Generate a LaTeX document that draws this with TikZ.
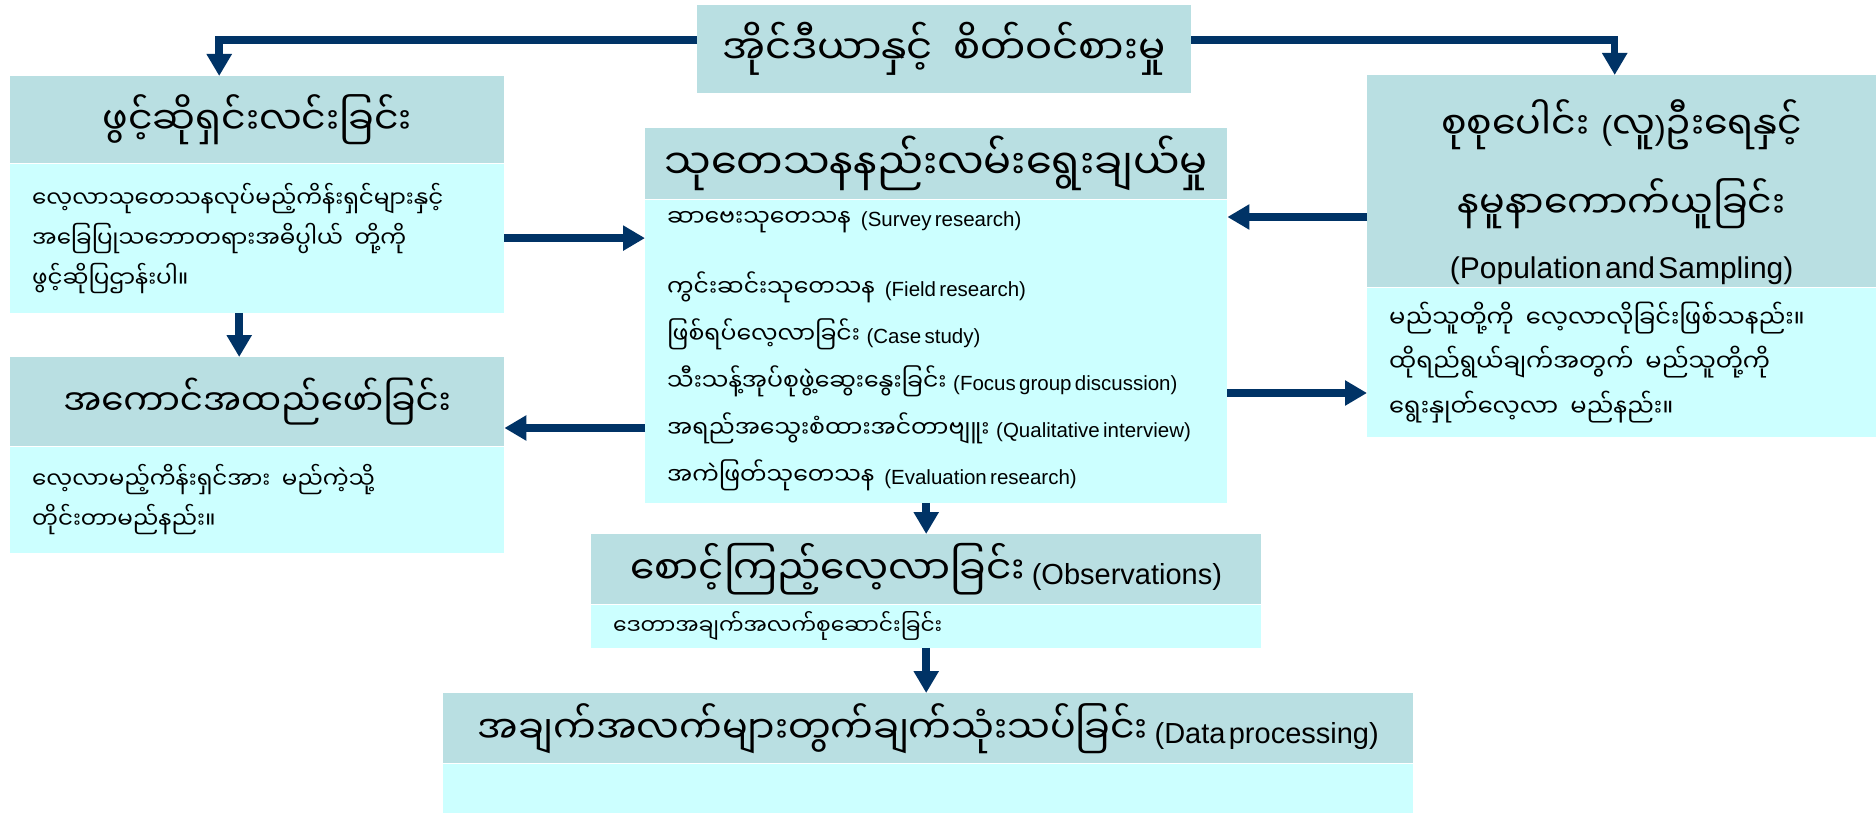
\documentclass[tikz,border=0pt]{standalone}
\usepackage{fontspec}
\setmainfont{Liberation Sans}
\newfontfamily\mmfont[Script=Myanmar,Scale=1.15]{Noto Sans Myanmar UI}
\usetikzlibrary{positioning,arrows.meta}
\definecolor{headfill}{HTML}{B9DFE2}
\definecolor{bodyfill}{HTML}{CCFFFF}
\definecolor{linkblue}{HTML}{003366}
\newcommand*{\my}[1]{{\mmfont #1}}
\newcommand*{\gap}{\hspace{0.5em}}
\newcommand*{\en}[1]{{\fontsize{29}{34}\selectfont #1}}
% name, left x, top y, width, head height, body height, head text, body text
\newcommand{\stepframe}[8]{%
\node[headbox, anchor=north west, minimum width=#4pt, text width=#4pt-24pt, minimum height=#5pt] (#1-head) at (#2,#3) {#7};
\node[bodybox, below=0pt of #1-head, minimum width=#4pt, text width=#4pt-44pt, minimum height=#6pt] (#1-body) {#8};
}

\begin{document}
\begin{tikzpicture}[x=1pt,y=-1pt]
		\tikzset{
			headbox/.style = {fill = headfill, inner xsep = 12pt, inner ysep = 0pt, align = center},
			bodybox/.style = {fill = bodyfill, inner xsep = 22pt, inner ysep = 0pt, align = left},
			link/.style = {draw = linkblue, line width = 7.5pt, -{Triangle[length=22pt,width=24pt]}},
		};
		\fill[white] (0,0) rectangle (1876,813);
		\useasboundingbox (0,0) rectangle (1876,813);

		\node[headbox, anchor=north west, minimum width=494pt, text width=470pt, minimum height=88pt] (idea) at (697,5)
			{\fontsize{35}{42}\selectfont\my{အိုင်ဒီယာနှင့်\gap စိတ်ဝင်စားမှု}};

		\stepframe{define}{10}{76}{494}{87}{149}
			{\fontsize{33}{40}\selectfont\my{ဖွင့်ဆိုရှင်းလင်းခြင်း}}
			{\fontsize{20}{40}\selectfont\my{လေ့လာသုတေသနလုပ်မည့်ကိန်းရှင်များနှင့်}\\\my{အခြေပြုသဘောတရားအဓိပ္ပါယ်\gap တို့ကို}\\\my{ဖွင့်ဆိုပြဌာန်းပါ။}\par}
		\stepframe{frame}{10}{357}{494}{89}{106}
			{\fontsize{31}{38}\selectfont\my{အကောင်အထည်ဖော်ခြင်း}}
			{\fontsize{20}{40}\selectfont\my{လေ့လာမည့်ကိန်းရှင်အား\gap မည်ကဲ့သို့}\\\my{တိုင်းတာမည်နည်း။}\par}
		\stepframe{method}{645}{128}{582}{71}{303}
			{\fontsize{36}{42}\selectfont\my{သုတေသနနည်းလမ်းရွေးချယ်မှု}}
			{\fontsize{20.5}{47}\selectfont\my{ဆာဗေးသုတေသန}~~~(Survey research)\\[23pt]
			\my{ကွင်းဆင်းသုတေသန}~~~(Field research)\\
			\my{ဖြစ်ရပ်လေ့လာခြင်း}~~(Case study)\\
			\my{သီးသန့်အုပ်စုဖွဲ့ဆွေးနွေးခြင်း}~~(Focus group discussion)\\
			\my{အရည်အသွေးစံထားအင်တာဗျူး}~~(Qualitative interview)\\
			\my{အကဲဖြတ်သုတေသန}~~~(Evaluation research)\par}
		\stepframe{sample}{1367}{75}{509}{212}{149}
			{\fontsize{33}{79}\selectfont\rule{0pt}{62pt}\my{စုစုပေါင်း}\hspace{12pt}(\my{လူ})\my{ဦးရေနှင့်}\\\my{နမူနာကောက်ယူခြင်း}\\\fontsize{30}{60}\selectfont (Population and Sampling)\par}
			{\fontsize{21}{44.5}\selectfont\my{မည်သူတို့ကို\gap လေ့လာလိုခြင်းဖြစ်သနည်း။}\\\my{ထိုရည်ရွယ်ချက်အတွက်\gap မည်သူတို့ကို}\\\my{ရွေးနှုတ်လေ့လာ\gap မည်နည်း။}\par}
		\stepframe{obs}{591}{534}{670}{70}{43}
			{\fontsize{34}{40}\selectfont\my{စောင့်ကြည့်လေ့လာခြင်း}~~\en{(Observations)}}
			{\fontsize{19}{24}\selectfont\my{ဒေတာအချက်အလက်စုဆောင်းခြင်း}}
		\stepframe{process}{443}{693}{970}{70}{50}
			{\fontsize{33}{40}\selectfont\my{အချက်အလက်များတွက်ချက်သုံးသပ်ခြင်း}~~\en{(Data processing)}}
			{}

		% connectors
		\draw[link] ([yshift=9pt]idea.west) -| ([xshift=-38pt]define-head.north);
		\draw[link] ([yshift=9pt]idea.east) -| ([xshift=-7pt]sample-head.north);
		\draw[link] ([xshift=-18pt]define-body.south) -- ([xshift=-18pt]frame-head.north);
		\draw[link] (define-body.east) -- (define-body.east -| method-body.west);
		\draw[link] (method-body.west |- 0,428) -- (frame-head.east |- 0,428);
		\draw[link] (sample-head.west |- 0,217) -- (method-body.east |- 0,217);
		\draw[link] (method-body.east |- 0,393) -- (sample-body.west |- 0,393);
		\draw[link] (method-body.south -| obs-head.north) -- (obs-head.north);
		\draw[link] (obs-body.south) -- (obs-body.south |- process-head.north);
\end{tikzpicture}
\end{document}
